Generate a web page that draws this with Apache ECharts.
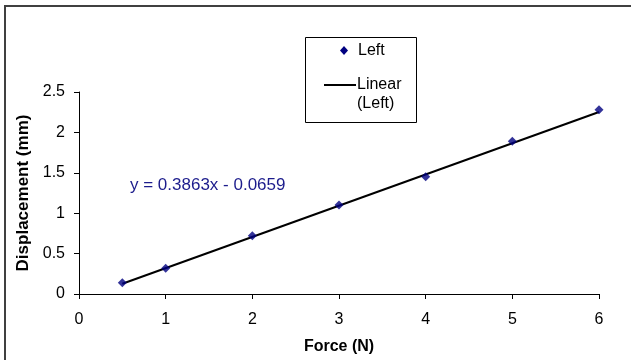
<!DOCTYPE html>
<html>
<head>
<meta charset="utf-8">
<script src="https://cdn.jsdelivr.net/npm/echarts@6/dist/echarts.min.js"></script>
<style>
html,body{margin:0;padding:0;background:#fff;}
#c{width:631px;height:360px;}
</style>
</head>
<body>
<div id="c"></div>
<script>
// Data
var forceN = [0.5, 1, 2, 3, 4, 5, 6];
var displacementMm = [0.14, 0.32, 0.72, 1.10, 1.45, 1.89, 2.28];
var trendSlope = 0.3863;
var trendIntercept = -0.0659;
var trendLabel = 'y = 0.3863x - 0.0659';
var xTicks = [0, 1, 2, 3, 4, 5, 6];
var yTicks = [0, 0.5, 1, 1.5, 2, 2.5];
var seriesName = 'Left';
var trendName = 'Linear (Left)';

var points = forceN.map(function (x, i) { return [x, displacementMm[i]]; });
var xMinData = forceN[0], xMaxData = forceN[forceN.length - 1];
var trendPoints = [
  [xMinData, trendSlope * xMinData + trendIntercept],
  [xMaxData, trendSlope * xMaxData + trendIntercept]
];

var font = 'Liberation Sans, Arial, sans-serif';
var chart = echarts.init(document.getElementById('c'), null, {renderer: 'canvas'});
chart.setOption({
  animation: false,
  backgroundColor: '#fff',
  grid: {left: 79, right: 32, top: 92, bottom: 66, containLabel: false},
  xAxis: {
    type: 'value', min: xTicks[0], max: xTicks[xTicks.length - 1], interval: 1,
    name: 'Force (N)', nameLocation: 'middle', nameGap: 45,
    nameTextStyle: {fontFamily: font, fontSize: 16, fontWeight: 'bold', color: '#000'},
    axisLine: {show: true, lineStyle: {color: '#000', width: 1}},
    axisTick: {show: true, inside: false, length: 5, lineStyle: {color: '#000'}},
    axisLabel: {fontFamily: font, fontSize: 16, color: '#000', margin: 18},
    splitLine: {show: false}
  },
  yAxis: {
    type: 'value', min: yTicks[0], max: yTicks[yTicks.length - 1], interval: 0.5,
    name: 'Displacement (mm)', nameLocation: 'middle', nameGap: 46, nameRotate: 90,
    nameTextStyle: {fontFamily: font, fontSize: 17, fontWeight: 'bold', color: '#000'},
    axisLine: {show: true, lineStyle: {color: '#000', width: 1}},
    axisTick: {show: true, inside: false, length: 5, lineStyle: {color: '#000'}},
    axisLabel: {fontFamily: font, fontSize: 16, color: '#000', margin: 14,
      formatter: function (v) { return String(v); }},
    splitLine: {show: false}
  },
  series: [
    {
      name: trendName, type: 'line', data: trendPoints, symbol: 'none',
      lineStyle: {color: '#000', width: 2}, z: 2
    },
    {
      name: seriesName, type: 'scatter', data: points, symbol: 'diamond', symbolSize: 9,
      itemStyle: {color: '#000080'}, z: 3
    }
  ],
  graphic: [
    {type: 'rect', shape: {x: 5, y: 6, width: 640, height: 370},
      style: {fill: 'none', stroke: '#404040', lineWidth: 2}, z: 0, silent: true},
    {type: 'text', x: 130, y: 185,
      style: {text: trendLabel, font: '17px ' + font, fill: '#1c1c8c', verticalAlign: 'middle'}},
    {type: 'rect', shape: {x: 305.5, y: 37.5, width: 111, height: 85},
      style: {fill: '#fff', stroke: '#000', lineWidth: 1}, z: 10},
    {type: 'polygon', shape: {points: [[344, 46], [348, 50.5], [344, 55], [340, 50.5]]},
      style: {fill: '#000080'}, z: 11},
    {type: 'text', x: 358, y: 50.5,
      style: {text: seriesName, font: '16px ' + font, fill: '#000', verticalAlign: 'middle'}, z: 11},
    {type: 'line', shape: {x1: 324, y1: 85, x2: 356, y2: 85},
      style: {stroke: '#000', lineWidth: 2}, z: 11},
    {type: 'text', x: 357, y: 85,
      style: {text: 'Linear', font: '16px ' + font, fill: '#000', verticalAlign: 'middle'}, z: 11},
    {type: 'text', x: 357, y: 104,
      style: {text: '(Left)', font: '16px ' + font, fill: '#000', verticalAlign: 'middle'}, z: 11}
  ]
});
</script>
</body>
</html>
